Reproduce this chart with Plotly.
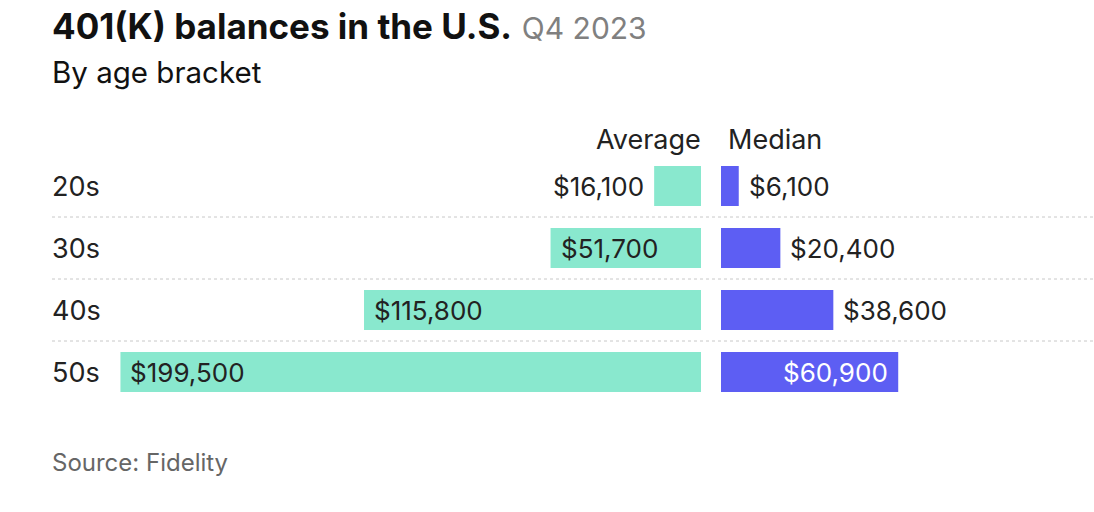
import plotly.graph_objects as go

# ---- data ----
age_brackets = ["20s", "30s", "40s", "50s"]
average_balance = [16100, 51700, 115800, 199500]
median_balance = [6100, 20400, 38600, 60900]
series_names = ["Average", "Median"]
title_text = "401(K) balances in the U.S."
period_text = "Q4 2023"
subtitle_text = "By age bracket"
source_text = "Source: Fidelity"

# ---- layout constants ----
W, H = 1094, 512
FONT = "Inter"
DARK = "#222222"
TEAL = "#89E8CE"
BLUE = "#5D5EF3"
PX_PER_UNIT = 2.91 / 1000.0
LEFT_END = 701   # px where average bars end (their base)
RIGHT_START = 721  # px where median bars start
ROW0 = 186
PITCH = 62
BAR_H = 40
VAL_SIZE = 26
LBL_SIZE = 27

def fmt(v):
    return "${:,}".format(v)

left_range = LEFT_END / PX_PER_UNIT
right_range = (W - RIGHT_START) / PX_PER_UNIT
y_top = -ROW0 / PITCH
y_bot = (H - ROW0) / PITCH

idx = list(range(len(age_brackets)))

fig = go.Figure()
fig.add_trace(go.Bar(
    y=idx, x=average_balance, orientation="h", marker=dict(color=TEAL, line=dict(width=0)),
    width=BAR_H / PITCH, xaxis="x", yaxis="y", hoverinfo="skip", name=series_names[0]))
fig.add_trace(go.Bar(
    y=idx, x=median_balance, orientation="h", marker=dict(color=BLUE, line=dict(width=0)),
    width=BAR_H / PITCH, xaxis="x2", yaxis="y", hoverinfo="skip", name=series_names[1]))

annotations = []
CHAR_W = 15.5
PAD = 10
for i, (a, m) in enumerate(zip(average_balance, median_balance)):
    ta = fmt(a)
    a_px = a * PX_PER_UNIT
    if a_px > len(ta) * CHAR_W + 2 * PAD:
        annotations.append(dict(x=a, y=i, xref="x", yref="y", text=ta, showarrow=False,
                                xanchor="left", xshift=PAD - 2, font=dict(size=VAL_SIZE, color=DARK, family=FONT)))
    else:
        annotations.append(dict(x=a, y=i, xref="x", yref="y", text=ta, showarrow=False,
                                xanchor="right", xshift=-PAD + 2, font=dict(size=VAL_SIZE, color=DARK, family=FONT)))
    tm = fmt(m)
    m_px = m * PX_PER_UNIT
    if m_px > len(tm) * CHAR_W + 2 * PAD:
        annotations.append(dict(x=m, y=i, xref="x2", yref="y", text=tm, showarrow=False,
                                xanchor="right", xshift=-PAD + 2, font=dict(size=VAL_SIZE, color="white", family=FONT)))
    else:
        annotations.append(dict(x=m, y=i, xref="x2", yref="y", text=tm, showarrow=False,
                                xanchor="left", xshift=PAD - 2, font=dict(size=VAL_SIZE, color=DARK, family=FONT)))
    annotations.append(dict(x=52 / W, y=i, xref="paper", yref="y", text=age_brackets[i], showarrow=False,
                            xanchor="left", xshift=-2, font=dict(size=LBL_SIZE, color=DARK, family=FONT)))

annotations.append(dict(x=0, y=-0.75, xref="x", yref="y", text=series_names[0], showarrow=False,
                        xanchor="right", xshift=2, font=dict(size=LBL_SIZE, color=DARK, family=FONT)))
annotations.append(dict(x=0, y=-0.75, xref="x2", yref="y", text=series_names[1], showarrow=False,
                        xanchor="left", xshift=5, font=dict(size=LBL_SIZE, color=DARK, family=FONT)))

annotations.append(dict(x=52 / W, y=1 - 26 / H, xref="paper", yref="paper", xanchor="left", yanchor="middle",
                        xshift=-2, showarrow=False,
                        text=f"<b>{title_text}</b> <span style='color:#808080;font-size:30px'>{period_text}</span>",
                        font=dict(size=35, color="#111111", family=FONT)))
annotations.append(dict(x=52 / W, y=1 - 72 / H, xref="paper", yref="paper", xanchor="left", yanchor="middle",
                        xshift=-2, showarrow=False, text=subtitle_text,
                        font=dict(size=29.5, color="#111111", family=FONT)))
annotations.append(dict(x=52 / W, y=1 - 462 / H, xref="paper", yref="paper", xanchor="left", yanchor="middle",
                        xshift=-2, showarrow=False, text=source_text,
                        font=dict(size=24, color="#666666", family=FONT)))

shapes = []
for i in range(len(age_brackets) - 1):
    shapes.append(dict(type="line", xref="paper", yref="y", x0=52 / W, x1=1, y0=i + 0.5, y1=i + 0.5,
                       line=dict(color="#c8c8c8", width=1, dash="dot")))

fig.update_layout(
    width=W, height=H,
    margin=dict(l=0, r=0, t=0, b=0),
    paper_bgcolor="white", plot_bgcolor="white",
    showlegend=False,
    barmode="overlay",
    xaxis=dict(domain=[0, LEFT_END / W], range=[left_range, 0], visible=False, fixedrange=True),
    xaxis2=dict(domain=[RIGHT_START / W, 1], range=[0, right_range], visible=False, fixedrange=True),
    yaxis=dict(range=[y_bot, y_top], visible=False, fixedrange=True),
    annotations=annotations,
    shapes=shapes,
    font=dict(family=FONT),
)

fig.write_html("out.html", config={"displayModeBar": False},
               post_script="document.body.style.margin='0';document.body.style.overflow='hidden';")
